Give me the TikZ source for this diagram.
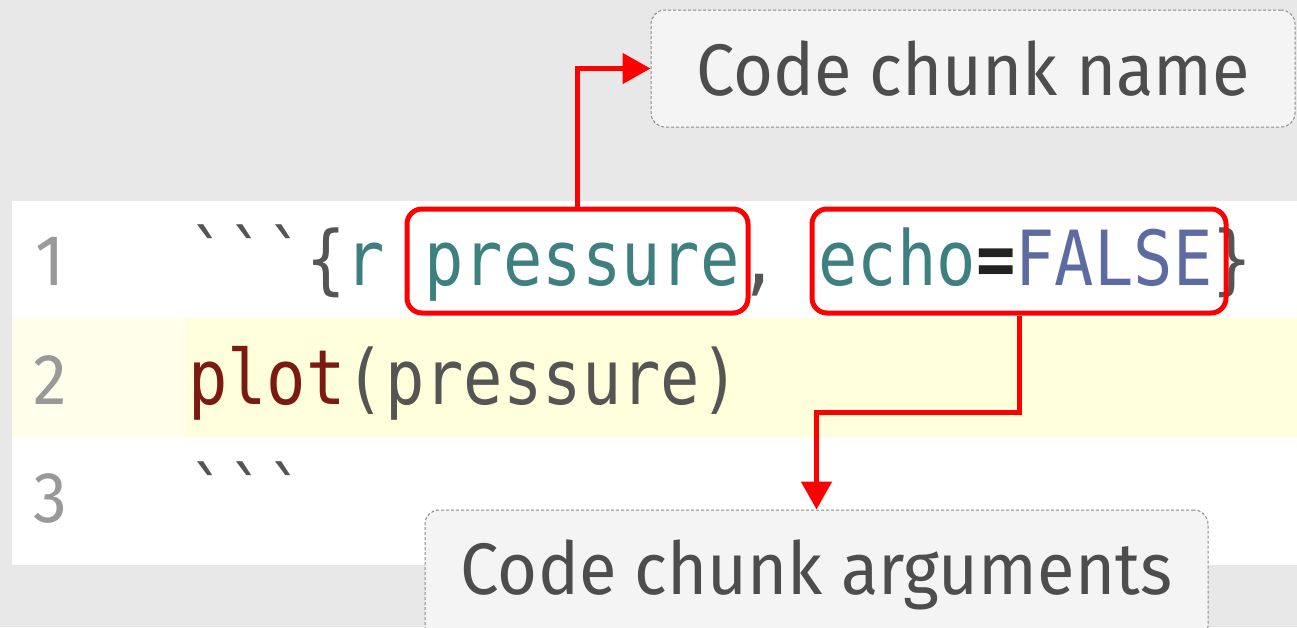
\documentclass[tikz,border=0pt]{standalone}
\usepackage{fontspec}
\setmainfont{Fira Sans}
\newfontfamily\labelfont[FakeStretch=0.94]{Fira Sans}
\newfontfamily\codefont[FakeStretch=0.861]{DejaVu Sans Mono}
\usetikzlibrary{arrows.meta}
\definecolor{bg}{HTML}{E8E8E8}
\definecolor{gutteryellow}{HTML}{FFFFEC}
\definecolor{rowyellow}{HTML}{FFFFDC}
\definecolor{teal}{HTML}{3E8080}
\definecolor{codegray}{HTML}{555555}
\definecolor{eqblack}{HTML}{222222}
\definecolor{falseblue}{HTML}{5E6BA3}
\definecolor{plotred}{HTML}{7C1A12}
\definecolor{numgray}{HTML}{999999}
\definecolor{labeltext}{HTML}{4D4D4D}
\definecolor{calloutfill}{HTML}{F4F4F4}
\definecolor{calloutborder}{HTML}{8A8A8A}
\tikzset{
  codeline/.style={anchor=base west, inner sep=0pt, text=codegray,
    font=\codefont\fontsize{76}{80}\selectfont},
  linenum/.style={anchor=base, inner sep=0pt, text=numgray,
    font=\labelfont\fontsize{72}{76}\selectfont},
  redbox/.style={draw=red, line width=5pt, rounded corners=15pt, inner sep=0pt},
  callout/.style={draw=calloutborder, fill=calloutfill, line width=1pt,
    dash pattern=on 3pt off 2pt, rounded corners=14pt, text=labeltext,
    font=\labelfont\fontsize{73}{80}\selectfont, inner sep=0pt},
  redarrow/.style={draw=red, line width=5pt,
    -{Triangle[length=28pt, width=30pt]}}
}
\begin{document}
\begin{tikzpicture}[x=1pt,y=-1pt]
\clip (0,0) rectangle (1297,627);
\fill[bg] (0,0) rectangle (1297,627);
\fill[white] (12,201) rectangle (1297,565);
\fill[gutteryellow] (12,318) rectangle (185,437);
\fill[rowyellow] (185,318) rectangle (1297,437);

% line numbers
\node[linenum] (n1) at (50,285) {1};
\node[linenum] (n2) at (50,404) {2};
\node[linenum] (n3) at (50,522) {3};

% code
\node[codeline] (l1) at (188,285) {```\{\textcolor{teal}{r pressure}, \textcolor{teal}{echo}\textcolor{eqblack}{\textbf{=}}\textcolor{falseblue}{FALSE}\}};
\node[codeline] (l2) at (188,404) {\textcolor{plotred}{plot}(pressure)};
\node[codeline] (l3) at (188,522) {```};

% red highlight boxes
\node[redbox, minimum width=341pt, minimum height=104pt] (b1) at (577.5,261) {};
\node[redbox, minimum width=414pt, minimum height=104pt] (b2) at (1019,261) {};

% callouts
\node[callout, minimum width=644pt, minimum height=117pt] (name) at (973,68.5) {Code chunk name};
\node[callout, minimum width=783pt, minimum height=130pt] (args) at (816.5,575) {Code chunk arguments};

% connectors
\draw[redarrow] (b1.north) |- (name.west);
\draw[redarrow] (b2.south) -- ++(0,97) -| (args.north);
\end{tikzpicture}
\end{document}
